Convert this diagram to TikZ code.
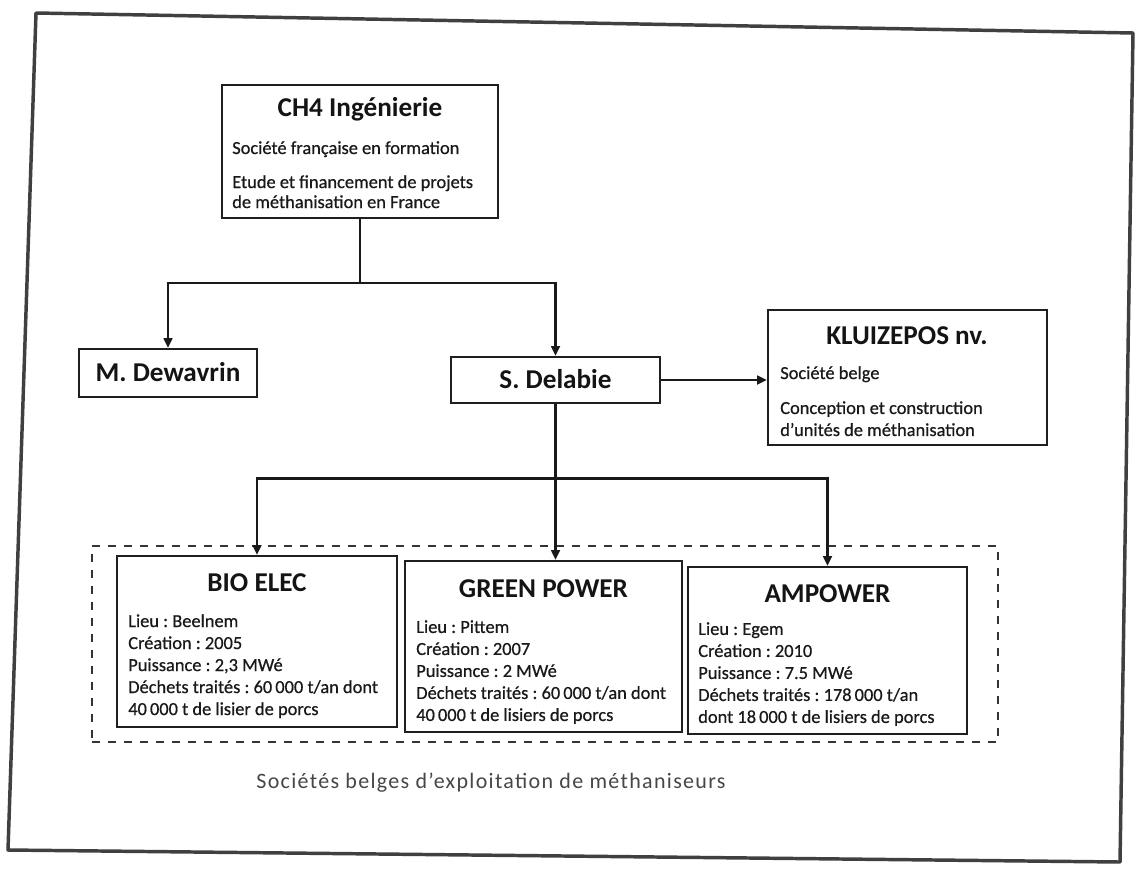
\documentclass[tikz,border=0pt]{standalone}
\usepackage{fontspec}
\setmainfont{Carlito}
\newfontfamily\bodyfam{Carlito}[FakeBold=0.6]
\newfontfamily\capfam{Carlito}[LetterSpace=6]
\usetikzlibrary{arrows.meta,fit}
\frenchspacing
\newcommand\ttlfont{\fontsize{20.4}{24}\selectfont\bfseries}
\newcommand\bodyfont{\bodyfam\fontsize{13.8}{16.5}\selectfont}
\newcommand\bodyfontb{\bodyfam\fontsize{13.8}{15}\selectfont}
\newcommand\capfont{\capfam\fontsize{16.5}{20}\selectfont}
\begin{document}
\begin{tikzpicture}[x=0.75pt,y=-0.75pt,
  frame/.style={draw=black!75, line width=2.6pt, line join=round},
  box/.style={draw=black!88, line width=1.5pt, inner sep=0pt},
  dashbox/.style={draw=black!80, line width=1.1pt, dash pattern=on 6pt off 6pt, inner sep=0pt},
  conn/.style={draw=black!90, line width=2.2pt},
  arr/.style={conn, -{Triangle[length=7.5pt,width=6.5pt]}},
  ttl/.style={font=\ttlfont, inner sep=0pt, anchor=base, text=black!92},
  body/.style={font=\bodyfont, align=left, anchor=north west, inner sep=0pt, text=black!90},
  bodyb/.style={body, font=\bodyfontb},
  captext/.style={font=\capfont, inner sep=0pt, text=black!72}]
\useasboundingbox (0,0) rectangle (1137,874);
\fill[white] (0,0) rectangle (1137,874);

% outer frame
\draw[frame] (36,13) -- (1133,33) -- (1120,862) -- (8,850) -- cycle;

% boxes
\node[box, fit={(222,85) (498,218)}] (ch4) {};
\node[box, fit={(79,349) (257,397)}] (dew) {};
\node[box, fit={(451,357) (660,403)}] (dela) {};
\node[box, fit={(768,310) (1047,445)}] (kl) {};
\node[dashbox, fit={(92,546) (998,742)}] (grp) {};
\node[box, fit={(117,556) (397,727)}] (bio) {};
\node[box, fit={(405,561) (682,732)}] (gp) {};
\node[box, fit={(688,567) (967,734)}] (amp) {};

% titles
\node[ttl] (ch4t) at (360,116) {CH4 Ingénierie};
\node[ttl] (dewt) at ([yshift=-6.5pt]dew.center) {M. Dewavrin};
\node[ttl] (delat) at ([yshift=-6.5pt]dela.center) {S. Delabie};
\node[ttl] (klt) at (907,344) {KLUIZEPOS nv.};
\node[ttl] (biot) at (257,591) {BIO ELEC};
\node[ttl] (gpt) at (543.5,597) {GREEN POWER};
\node[ttl] (ampt) at (827.5,602) {AMPOWER};

% body texts
\node[body] (ch4a) at (232,141) {Société française en formation};
\node[bodyb] (ch4b) at (232,175) {Etude et financement de projets\\de méthanisation en France};
\node[body] (kla) at (780,366) {Société belge};
\node[body] (klb) at (780,401) {Conception et construction\\d’unités de méthanisation};
\node[body] (biob) at (128,614) {Lieu : Beelnem\\Création : 2005\\Puissance : 2,3 MWé\\Déchets traités : 60\,000 t/an dont\\40\,000 t de lisier de porcs};
\node[body] (gpb) at (416,620) {Lieu : Pittem\\Création : 2007\\Puissance : 2 MWé\\Déchets traités : 60\,000 t/an dont\\40\,000 t de lisiers de porcs};
\node[body] (ampb) at (698,622) {Lieu : Egem\\Création : 2010\\Puissance : 7.5 MWé\\Déchets traités : 178\,000 t/an\\dont 18\,000 t de lisiers de porcs};

% caption
\node[captext] (capt) at (491,783) {Sociétés belges d’exploitation de méthaniseurs};

% connectors
\coordinate (j1) at ([yshift=-48pt]ch4.south);
\draw[conn] (ch4.south) -- (j1);
\draw[arr] (j1) -| (dew.north);
\draw[arr] (j1) -| (dela.north);
\draw[arr] (dela.east) -- (dela.east -| kl.west);
\coordinate (j2) at ([yshift=-56pt]dela.south);
\draw[arr] (dela.south) -- (dela.south |- gp.north);
\draw[arr] (j2) -| (bio.north);
\draw[arr] (j2) -| (amp.north);
\end{tikzpicture}
\end{document}
